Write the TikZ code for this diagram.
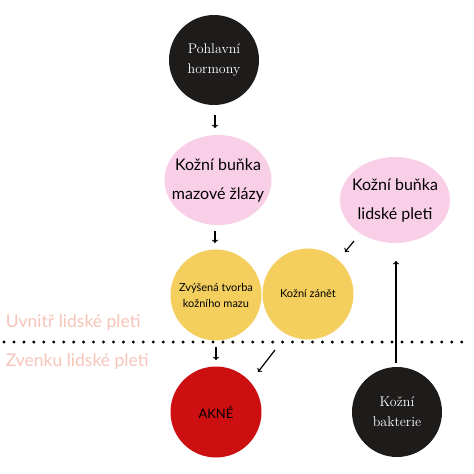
\documentclass[tikz,border=0pt]{standalone}
\usepackage{fontspec}
\usepackage{xcolor}
\newfontfamily\lato{Lato}
\usetikzlibrary{positioning,shapes.geometric}
\definecolor{nightblack}{RGB}{30,27,27}
\definecolor{cellpink}{RGB}{249,207,231}
\definecolor{sebumyellow}{RGB}{244,207,94}
\definecolor{acnered}{RGB}{204,16,18}
\definecolor{skinlabel}{RGB}{246,196,184}

\begin{document}
\begin{tikzpicture}[x=1pt,y=-1pt,>=to,line width=1.2pt]
\tikzstyle{darkball}=[circle, fill=nightblack, text=white, minimum size=90pt, inner sep=0pt, align=center, font=\fontsize{14}{20}\selectfont]
\tikzstyle{pinkcell}=[ellipse, fill=cellpink, inner sep=-12pt, align=center, font=\lato\fontsize{16}{29}\selectfont]
\tikzstyle{yellowball}=[circle, fill=sebumyellow, minimum size=91pt, inner sep=0pt, align=center, font=\lato\fontsize{11}{16}\selectfont]
\tikzstyle{sidelabel}=[anchor=west, text=skinlabel, font=\lato\fontsize{17.5}{19}\selectfont]
\useasboundingbox (0,0) rectangle (474,474);

\node [darkball] (hormony) at (214,60) {Pohlavní\\hormony};
\node [pinkcell, minimum width=107pt, minimum height=90pt] (mazova) at (218,180) {Kožní buňka\\mazové žlázy};
\node [pinkcell, minimum width=110pt, minimum height=86pt] (pleti) at (395,200) {Kožní buňka\\lidské pleti};
\node [yellowball] (maz) at (216,295) {Zvýšená tvorba\\kožního mazu};
\node [yellowball] (zanet) at (308,294) {Kožní zánět};
\node [circle, fill=acnered, minimum size=91pt, inner sep=0pt, font=\lato\fontsize{13}{15}\selectfont] (akne) at (216,412) {AKNÉ};
\node [darkball] (bakterie) at (397,412) {Kožní\\bakterie};

% hranice pleti
\draw [line width=3.3pt, line cap=round, dash pattern=on 0pt off 9.95pt] (4,342) -- (470,342);
\node [sidelabel] (uvnitr) at (2,323) {Uvnitř lidské pleti};
\node [sidelabel] (zvenku) at (2,362) {Zvenku lidské pleti};

% sipky
\coordinate (a1) at (215,115); \coordinate (a2) at (215,128);
\coordinate (b1) at (215,231); \coordinate (b2) at (215,243);
\coordinate (c1) at (354,241); \coordinate (c2) at (345,252);
\coordinate (d1) at (216,347); \coordinate (d2) at (216,360);
\coordinate (e1) at (275,350); \coordinate (e2) at (258,372);
\coordinate (f1) at (396,363); \coordinate (f2) at (396,261);
\draw [->] (a1) -- (a2);
\draw [->] (b1) -- (b2);
\draw [->] (c1) -- (c2);
\draw [->] (d1) -- (d2);
\draw [->] (e1) -- (e2);
\draw [->] (f1) -- (f2);
\end{tikzpicture}
\end{document}
